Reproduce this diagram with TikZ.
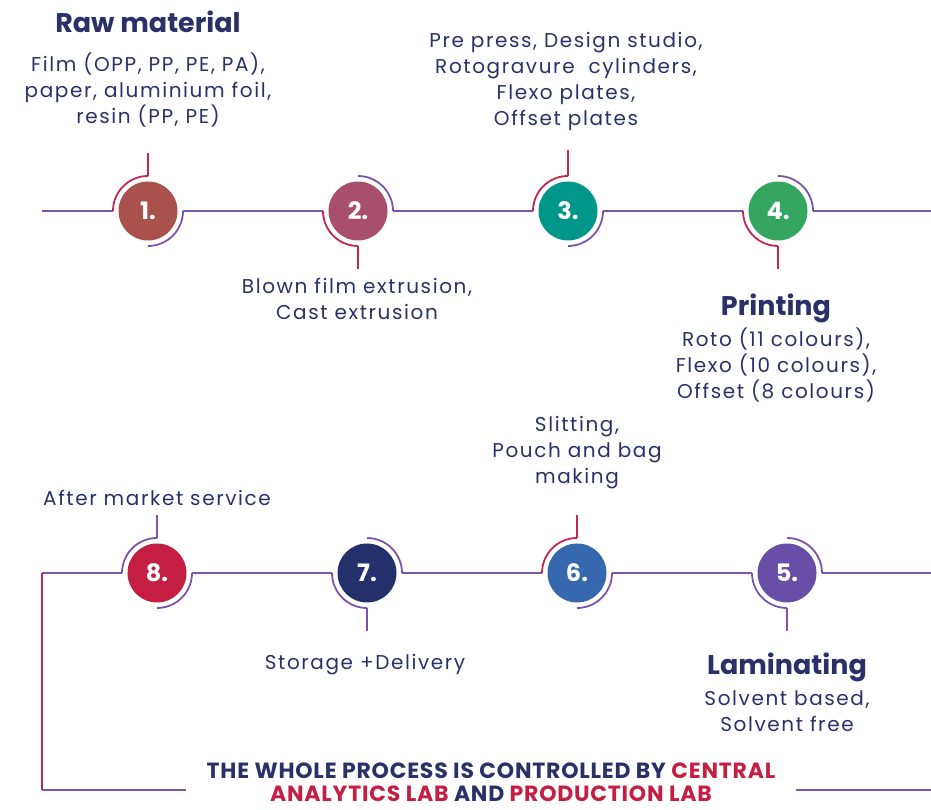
\documentclass[tikz,border=0pt]{standalone}
\usepackage{fontspec}
\setmainfont{Poppins}
\newfontfamily\spacedfont{Poppins}[LetterSpace=8]
\newfontfamily\capsfont{Poppins}[LetterSpace=3.5]
\definecolor{navy}{HTML}{2B3168}
\definecolor{crim}{HTML}{C42553}
\definecolor{lilac}{HTML}{7B55AC}
\definecolor{red1}{HTML}{A9524D}
\definecolor{rose2}{HTML}{A74F6D}
\definecolor{teal3}{HTML}{00968A}
\definecolor{green4}{HTML}{34A660}
\definecolor{violet5}{HTML}{674EA7}
\definecolor{blue6}{HTML}{3568AC}
\definecolor{navy7}{HTML}{23306B}
\definecolor{red8}{HTML}{C41F43}
\tikzset{
  stepdot/.style={circle, minimum size=59pt, inner sep=0pt, outer sep=0pt, text=white, font=\bfseries\fontsize{24}{28}\selectfont},
  ring/.style={circle, minimum size=70pt, inner sep=0pt, outer sep=0pt},
  link/.style={lilac, line width=1.8pt},
  hook/.style={crim, line width=1.8pt},
  info/.style={navy, align=center, font=\spacedfont\fontsize{20}{26}\selectfont},
  head/.style={navy, font=\bfseries\fontsize{27}{30}\selectfont},
  note/.style={navy, align=center, font=\capsfont\bfseries\fontsize{22}{23}\selectfont},
}
\begin{document}
\begin{tikzpicture}[x=1pt, y=1pt]
        \useasboundingbox (0,0) rectangle (931,810);
        \foreach \n/\x/\y/\c in {1/148/599/red1, 2/358/599/rose2, 3/568/599/teal3, 4/778/599/green4,
                                 5/787/237/violet5, 6/577/237/blue6, 7/367/237/navy7, 8/157/237/red8} {
                \node[stepdot, fill=\c] (s\n) at (\x,\y) {\n.};
                \node[ring] (r\n) at (\x,\y) {};
            }
        \coordinate (rowa) at (42,599);
        \coordinate (rowaend) at (931,599);
        \coordinate (rowbend) at (931,237);
        \coordinate (corner) at (42,237);
        \coordinate (foot) at (42,20);
        \coordinate (footl) at (186,20);
        \coordinate (footr) at (796,20);
        \coordinate (footend) at (931,20);
        \draw[link] (rowa) -- (r1.west);
        \draw[link] (r1.east) -- (r2.west);
        \draw[link] (r2.east) -- (r3.west);
        \draw[link] (r3.east) -- (r4.west);
        \draw[link] (r4.east) -- (rowaend);
        \draw[link] (r8.east) -- (r7.west);
        \draw[link] (r7.east) -- (r6.west);
        \draw[link] (r6.east) -- (r5.west);
        \draw[link] (r5.east) -- (rowbend);
        \draw[link] (r8.west) -- (corner);
        \draw[hook] (corner) -- (foot);
        \draw[link] (foot) -- (footl);
        \draw[link] (footr) -- (footend);
        \foreach \n in {1,3,6} {
                \draw[hook] (r\n.north) arc[start angle=90, end angle=180, radius=35pt];
                \draw[link] (r\n.east) arc[start angle=0, end angle=-90, radius=35pt];
            }
        \draw[link] (r8.north) arc[start angle=90, end angle=180, radius=35pt];
        \draw[link] (r8.east) arc[start angle=0, end angle=-90, radius=35pt];
        \foreach \n in {2,4} {
                \draw[link] (r\n.north) arc[start angle=90, end angle=0, radius=35pt];
                \draw[hook] (r\n.west) arc[start angle=180, end angle=270, radius=35pt];
                \draw[hook] (r\n.south) -- ++(0,-23);
            }
        \foreach \n in {5,7} {
                \draw[link] (r\n.north) arc[start angle=90, end angle=0, radius=35pt];
                \draw[link] (r\n.west) arc[start angle=180, end angle=270, radius=35pt];
                \draw[link] (r\n.south) -- ++(0,-23);
            }
        \draw[hook] (r1.north) -- ++(0,23);
        \draw[hook] (r3.north) -- ++(0,26);
        \draw[hook] (r6.north) -- ++(0,23);
        \draw[link] (r8.north) -- ++(0,23);
        \node[head] (rawhead) at (148,788) {Raw material};
        \node[info] (rawtext) at (148,720) {Film (OPP, PP, PE, PA),\\paper, aluminium foil,\\resin (PP, PE)};
        \node[info] (blowtext) at (357,511) {Blown film extrusion,\\Cast extrusion};
        \node[info] (pretext) at (566,728) {Pre press, Design studio,\\Rotogravure\ \ cylinders,\\Flexo plates,\\Offset plates};
        \node[head] (printhead) at (776,502) {Printing};
        \node[info] (printtext) at (776,445) {Roto (11 colours),\\Flexo (10 colours),\\Offset (8 colours)};
        \node[info] (slittext) at (577,357) {Slitting,\\Pouch and bag\\making};
        \node[info] (aftertext) at (157,312) {After market service};
        \node[info] (storetext) at (365,145) {Storage +Delivery};
        \node[head] (laminhead) at (787,143) {Laminating};
        \node[info] (lamintext) at (787,99) {Solvent based,\\Solvent free};
        \node[note] (whole) at (491,28) {THE WHOLE PROCESS IS CONTROLLED BY \textcolor{red8}{CENTRAL}\\\textcolor{red8}{ANALYTICS LAB} AND \textcolor{red8}{PRODUCTION LAB}};
    \end{tikzpicture}
\end{document}
